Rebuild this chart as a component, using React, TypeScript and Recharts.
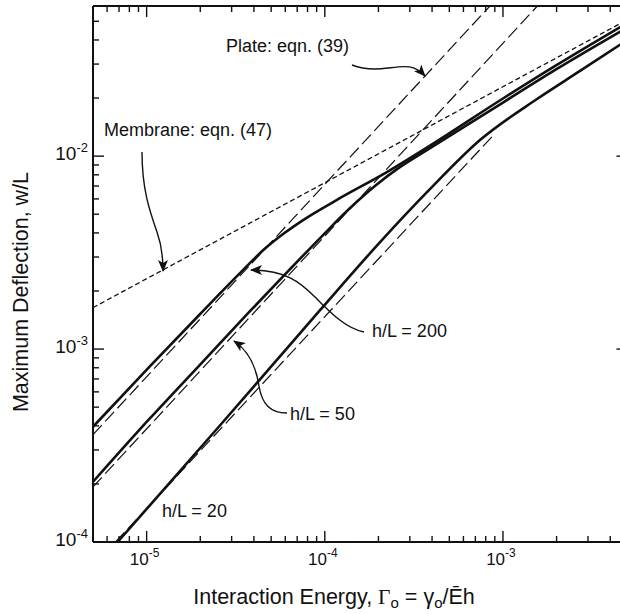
import { Line, LineChart, XAxis, YAxis } from "recharts";

// interaction energy (x) vs maximum deflection (y)
const membraneEqn47 = [
  { x: 5e-6, y: 1.64e-3 },
  { x: 5e-3, y: 5.1e-2 },
];

const plateEqn39HL200 = [
  { x: 5e-6, y: 3.6e-4 },
  { x: 8.45e-4, y: 6.0e-2 },
];

const plateEqn39HL50 = [
  { x: 5e-6, y: 1.93e-4 },
  { x: 1.56e-3, y: 6.0e-2 },
];

const plateEqn39HL20 = [
  { x: 6.69e-6, y: 1.0e-4 },
  { x: 8.79e-4, y: 1.278e-2 },
];

const deflectionHL200 = [
  { x: 5e-6, y: 3.957e-4 },
  { x: 1.039e-5, y: 8.11e-4 },
  { x: 1.985e-5, y: 1.511e-3 },
  { x: 3.33e-5, y: 2.467e-3 },
  { x: 4.6e-5, y: 3.307e-3 },
  { x: 5.96e-5, y: 4.005e-3 },
  { x: 7.52e-5, y: 4.65e-3 },
  { x: 1.214e-4, y: 6.05e-3 },
  { x: 2.23e-4, y: 8.26e-3 },
  { x: 3.74e-4, y: 1.107e-2 },
  { x: 1e-3, y: 1.989e-2 },
  { x: 1.985e-3, y: 2.952e-2 },
  { x: 5e-3, y: 4.91e-2 },
];

const deflectionHL50 = [
  { x: 5e-6, y: 2.05e-4 },
  { x: 1.039e-5, y: 4.355e-4 },
  { x: 1.985e-5, y: 8.26e-4 },
  { x: 3.79e-5, y: 1.566e-3 },
  { x: 6.36e-5, y: 2.588e-3 },
  { x: 9.745e-5, y: 3.888e-3 },
  { x: 1.382e-4, y: 5.37e-3 },
  { x: 1.934e-4, y: 7.07e-3 },
  { x: 2.638e-4, y: 8.77e-3 },
  { x: 3.74e-4, y: 1.0745e-2 },
  { x: 1e-3, y: 1.896e-2 },
  { x: 1.985e-3, y: 2.814e-2 },
  { x: 5e-3, y: 4.65e-2 },
];

const deflectionHL20 = [
  { x: 6.87e-6, y: 1.0e-4 },
  { x: 1.346e-5, y: 2.025e-4 },
  { x: 2.571e-5, y: 4.005e-4 },
  { x: 4.909e-5, y: 7.96e-4 },
  { x: 9.374e-5, y: 1.585e-3 },
  { x: 2.037e-4, y: 3.574e-3 },
  { x: 3.89e-4, y: 6.74e-3 },
  { x: 7.43e-4, y: 1.211e-2 },
  { x: 1.552e-3, y: 1.977e-2 },
  { x: 2.707e-3, y: 2.764e-2 },
  { x: 5e-3, y: 4.005e-2 },
];

const xTicks = [
  5e-6, 6e-6, 7e-6, 8e-6, 9e-6,
  1e-5, 2e-5, 3e-5, 4e-5, 5e-5, 6e-5, 7e-5, 8e-5, 9e-5,
  1e-4, 2e-4, 3e-4, 4e-4, 5e-4, 6e-4, 7e-4, 8e-4, 9e-4,
  1e-3, 2e-3, 3e-3, 4e-3, 5e-3,
];
const xMajorTicks = [1e-5, 1e-4, 1e-3];
const xMajorExponents = ["-5", "-4", "-3"];

const yTicks = [
  1e-4, 2e-4, 3e-4, 4e-4, 5e-4, 6e-4, 7e-4, 8e-4, 9e-4,
  1e-3, 2e-3, 3e-3, 4e-3, 5e-3, 6e-3, 7e-3, 8e-3, 9e-3,
  1e-2, 2e-2, 3e-2, 4e-2, 5e-2, 6e-2,
];
const yMajorTicks = [1e-4, 1e-3, 1e-2];
const yMajorExponents = ["-4", "-3", "-2"];

const X_DOMAIN: [number, number] = [5e-6, 5e-3];
const Y_DOMAIN: [number, number] = [1e-4, 0.06];

const WIDTH = 640;
const HEIGHT = 614;
const INK = "#111";
const FONT = "'Liberation Sans', Arial, Helvetica, sans-serif";

const MAJOR_LEN = 11;
const MINOR_LEN = 6;

function BottomTick({ x, y, payload }: any) {
  const i = xMajorTicks.indexOf(payload.value);
  const major = i >= 0;
  return (
    <g>
      <line x1={x} x2={x} y1={y} y2={y - (major ? MAJOR_LEN : MINOR_LEN)} stroke={INK} strokeWidth={1.4} />
      {major && (
        <text x={x - 2} y={y + 23} textAnchor="middle" fontFamily={FONT} fontSize={17} fill={INK}>
          10
          <tspan dy={-8} fontSize={12}>
            {xMajorExponents[i]}
          </tspan>
        </text>
      )}
    </g>
  );
}

function TopTick({ x, y, payload }: any) {
  const major = xMajorTicks.includes(payload.value);
  return <line x1={x} x2={x} y1={y} y2={y + (major ? MAJOR_LEN : MINOR_LEN)} stroke={INK} strokeWidth={1.4} />;
}

function LeftTick({ x, y, payload }: any) {
  const i = yMajorTicks.indexOf(payload.value);
  const major = i >= 0;
  return (
    <g>
      <line x1={x} x2={x + (major ? MAJOR_LEN : MINOR_LEN)} y1={y} y2={y} stroke={INK} strokeWidth={1.4} />
      {major && (
        <text x={x - 5} y={y + 4} textAnchor="end" fontFamily={FONT} fontSize={19} fill={INK}>
          10
          <tspan dy={-8} fontSize={13}>
            {yMajorExponents[i]}
          </tspan>
        </text>
      )}
    </g>
  );
}

function RightTick({ x, y, payload }: any) {
  const major = yMajorTicks.includes(payload.value);
  return <line x1={x} x2={x - (major ? MAJOR_LEN : MINOR_LEN)} y1={y} y2={y} stroke={INK} strokeWidth={1.4} />;
}

function Annotations() {
  const textStyle = { fontFamily: FONT, fontSize: 18, fill: INK };
  return (
    <svg
      width={WIDTH}
      height={HEIGHT}
      style={{ position: "absolute", left: 0, top: 0, pointerEvents: "none" }}
    >
      <defs>
        <marker
          id="arrowhead"
          viewBox="0 0 12 10"
          refX={11}
          refY={5}
          markerWidth={13}
          markerHeight={10}
          markerUnits="userSpaceOnUse"
          orient="auto"
        >
          <path d="M0,0 L12,5 L0,10 L3,5 Z" fill={INK} />
        </marker>
      </defs>
      <text x={226} y={52} {...textStyle}>Plate: eqn. (39)</text>
      <text x={104} y={136} {...textStyle}>Membrane: eqn. (47)</text>
      <text x={372} y={337} {...textStyle}>h/L = 200</text>
      <text x={290} y={420} {...textStyle}>h/L = 50</text>
      <text x={162} y={517} {...textStyle}>h/L = 20</text>

      <g fill="none" stroke={INK} strokeWidth={1.4} markerEnd="url(#arrowhead)">
        <path d="M142,152 C142,190 150,212 157,232 C162,246 163,256 163,271" />
        <path d="M352,65 C362,69 374,70 388,68 C404,66 414,64 425,76" />
        <path d="M364,332 C345,328 330,312 315,297 C300,282 285,270 251,270" />
        <path d="M287,413 C270,413 262,404 259,386 C256,366 249,351 234,341" />
      </g>

      <text
        transform="translate(28, 292) rotate(-90)"
        textAnchor="middle"
        fontFamily={FONT}
        fontSize={21.5}
        fill={INK}
      >
        Maximum Deflection, w/L
      </text>
      <text x={334} y={604} textAnchor="middle" fontFamily={FONT} fontSize={21.5} fill={INK}>
        Interaction Energy,{" "}
        <tspan fontFamily="'Liberation Serif', 'Times New Roman', serif">Γ</tspan>
        <tspan fontSize={15} dy={4}>o</tspan>
        <tspan dy={-4}> = γ</tspan>
        <tspan fontSize={15} dy={4}>o</tspan>
        <tspan dy={-4}>/Ēh</tspan>
      </text>
    </svg>
  );
}

export default function App() {
  const lineCommon = {
    dataKey: "y",
    dot: false,
    activeDot: false,
    isAnimationActive: false,
    stroke: INK,
  } as const;

  return (
    <div
      style={{
        position: "absolute",
        left: 0,
        top: 0,
        width: 620,
        height: 614,
        overflow: "hidden",
        background: "#fff",
      }}
    >
      <LineChart width={WIDTH} height={HEIGHT} margin={{ top: 0, right: 0, bottom: 0, left: 0 }}>
        <XAxis
          xAxisId="bottom"
          dataKey="x"
          type="number"
          scale="log"
          domain={X_DOMAIN}
          allowDataOverflow
          ticks={xTicks}
          interval={0}
          height={72}
          tickSize={0}
          tickMargin={0}
          tickLine={false}
          tick={BottomTick}
          axisLine={{ stroke: INK, strokeWidth: 2 }}
        />
        <XAxis
          xAxisId="top"
          orientation="top"
          dataKey="x"
          type="number"
          scale="log"
          domain={X_DOMAIN}
          allowDataOverflow
          ticks={xTicks}
          interval={0}
          height={6}
          tickSize={0}
          tickMargin={0}
          tickLine={false}
          tick={TopTick}
          axisLine={{ stroke: INK, strokeWidth: 2 }}
        />
        <YAxis
          yAxisId="left"
          type="number"
          scale="log"
          domain={Y_DOMAIN}
          allowDataOverflow
          ticks={yTicks}
          interval={0}
          width={93}
          tickSize={0}
          tickMargin={0}
          tickLine={false}
          tick={LeftTick}
          axisLine={{ stroke: INK, strokeWidth: 2 }}
        />
        <YAxis
          yAxisId="right"
          orientation="right"
          type="number"
          scale="log"
          domain={Y_DOMAIN}
          allowDataOverflow
          ticks={yTicks}
          interval={0}
          width={12.5}
          tickSize={0}
          tickMargin={0}
          tickLine={false}
          tick={RightTick}
          axisLine={{ stroke: INK, strokeWidth: 2 }}
        />

        <Line {...lineCommon} xAxisId="bottom" yAxisId="left" data={membraneEqn47} type="linear" strokeWidth={1.3} strokeDasharray="5 3" />
        <Line {...lineCommon} xAxisId="bottom" yAxisId="left" data={plateEqn39HL200} type="linear" strokeWidth={1.2} strokeDasharray="13 5" />
        <Line {...lineCommon} xAxisId="bottom" yAxisId="left" data={plateEqn39HL50} type="linear" strokeWidth={1.2} strokeDasharray="13 5" />
        <Line {...lineCommon} xAxisId="bottom" yAxisId="left" data={plateEqn39HL20} type="linear" strokeWidth={1.2} strokeDasharray="13 5" />
        <Line {...lineCommon} xAxisId="bottom" yAxisId="left" data={deflectionHL200} type="monotone" strokeWidth={2.6} />
        <Line {...lineCommon} xAxisId="bottom" yAxisId="left" data={deflectionHL50} type="monotone" strokeWidth={2.6} />
        <Line {...lineCommon} xAxisId="bottom" yAxisId="left" data={deflectionHL20} type="monotone" strokeWidth={2.6} />
      </LineChart>
      <Annotations />
    </div>
  );
}
